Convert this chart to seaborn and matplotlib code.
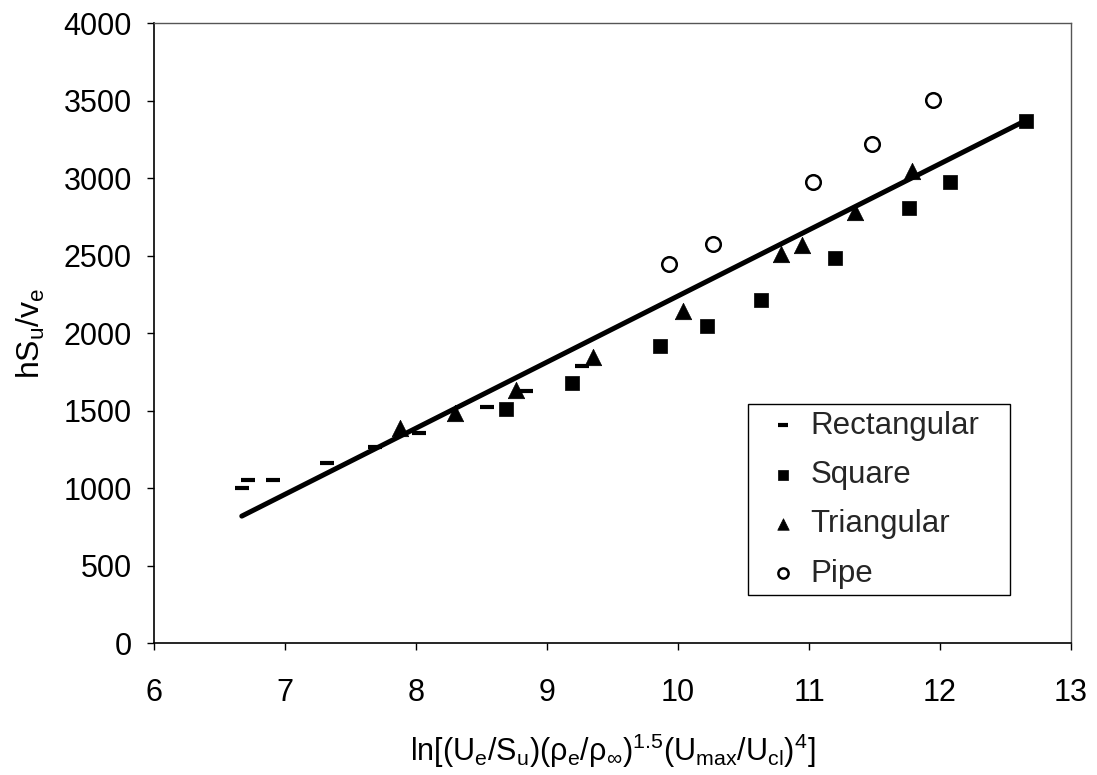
import numpy as np
import pandas as pd
import matplotlib
matplotlib.use("Agg")
import matplotlib.pyplot as plt
import seaborn as sns

# Measured data, grouped by channel geometry
rect_x = [6.67, 6.72, 6.91, 7.32, 7.69, 8.02, 8.54, 8.84, 9.27]
rect_y = [1000, 1052, 1052, 1161, 1265, 1355, 1523, 1626, 1787]

square_x = [8.69, 9.19, 9.86, 10.22, 10.63, 11.20, 11.76, 12.08, 12.66]
square_y = [1510, 1677, 1916, 2045, 2213, 2484, 2806, 2974, 3368]

tri_x = [7.88, 8.30, 8.76, 9.35, 10.04, 10.79, 10.95, 11.35, 11.79]
tri_y = [1387, 1484, 1632, 1845, 2142, 2510, 2568, 2781, 3045]

pipe_x = [9.93, 10.27, 11.03, 11.48, 11.95]
pipe_y = [2445, 2574, 2974, 3219, 3503]

# Linear correlation  hSu/ve = slope * X + intercept
fit_slope = 426.5
fit_intercept = -2026.0

x_ticks = [6, 7, 8, 9, 10, 11, 12, 13]
y_ticks = [0, 500, 1000, 1500, 2000, 2500, 3000, 3500, 4000]

sns.set_theme(style="white")
plt.rcParams["font.family"] = ["Liberation Sans", "DejaVu Sans"]
plt.rcParams["mathtext.fontset"] = "custom"
plt.rcParams["mathtext.rm"] = "Liberation Sans"
plt.rcParams["mathtext.it"] = "Liberation Sans"
plt.rcParams["mathtext.default"] = "regular"

fig = plt.figure(figsize=(10.97, 7.75), dpi=100)
ax = fig.add_axes([0.1404, 0.1703, 0.8359, 0.8000])

groups = [
    ("Rectangular", rect_x, rect_y),
    ("Square", square_x, square_y),
    ("Triangular", tri_x, tri_y),
    ("Pipe", pipe_x, pipe_y),
]
frames = [pd.DataFrame({"x": gx, "y": gy, "shape": name}) for name, gx, gy in groups]
df = pd.concat(frames, ignore_index=True)

# Correlation line across the full data range
xl = np.array([df["x"].min(), df["x"].max()])
sns.lineplot(x=xl, y=fit_slope * xl + fit_intercept, ax=ax, color="black",
             linewidth=3.6, legend=False, zorder=2)

sub = df[df["shape"] == "Rectangular"]
sns.scatterplot(data=sub, x="x", y="y", ax=ax, marker="_", s=110,
                color="black", linewidth=3.0, label="Rectangular", zorder=3)
sub = df[df["shape"] == "Square"]
sns.scatterplot(data=sub, x="x", y="y", ax=ax, marker="s", s=110,
                color="black", edgecolor="black", linewidth=0.5,
                label="Square", zorder=3)
sub = df[df["shape"] == "Triangular"]
sns.scatterplot(data=sub, x="x", y="y", ax=ax, marker="^", s=140,
                color="black", edgecolor="black", linewidth=0.5,
                label="Triangular", zorder=3)
sub = df[df["shape"] == "Pipe"]
sns.scatterplot(data=sub, x="x", y="y", ax=ax, marker="o", s=110,
                facecolor="white", edgecolor="black", linewidth=1.8,
                label="Pipe", zorder=3)

ax.set_xlim(6, 13)
ax.set_ylim(0, 4000)
ax.set_xticks(x_ticks)
ax.set_yticks(y_ticks)
ax.set_xticklabels([str(t) for t in x_ticks])
ax.set_yticklabels([str(t) for t in y_ticks])
ax.tick_params(axis="both", which="major", direction="out", length=5,
               width=1, color="black", labelsize=22, labelcolor="black",
               bottom=True, left=True)
ax.tick_params(axis="x", pad=20)
ax.tick_params(axis="y", pad=11)

for side in ("left", "bottom"):
    ax.spines[side].set_color("black")
    ax.spines[side].set_linewidth(1.2)
for side in ("top", "right"):
    ax.spines[side].set_color("#555555")
    ax.spines[side].set_linewidth(1.0)
    ax.spines[side].set_linestyle((0, (3, 1)))

ax.set_xlabel(r"$\mathrm{ln[(U_e/S_u)(\rho_e/\rho_\infty)^{1.5}(U_{max}/U_{cl})^4]}$",
              fontsize=22, color="black", labelpad=17)
ax.set_ylabel(r"$\mathrm{hS_u/v_e}$", fontsize=23, color="black", labelpad=12)

leg = ax.legend(loc="upper left", bbox_to_anchor=(0.648, 0.385, 0.285, 0.0),
                mode="expand", fontsize=22.5, frameon=True, fancybox=False,
                edgecolor="black", framealpha=1, handlelength=1.8,
                handletextpad=0.0, borderpad=0.2, labelspacing=0.62,
                markerscale=0.7, borderaxespad=0)
leg.get_frame().set_linewidth(1.0)

fig.savefig("out.png", dpi=100)
